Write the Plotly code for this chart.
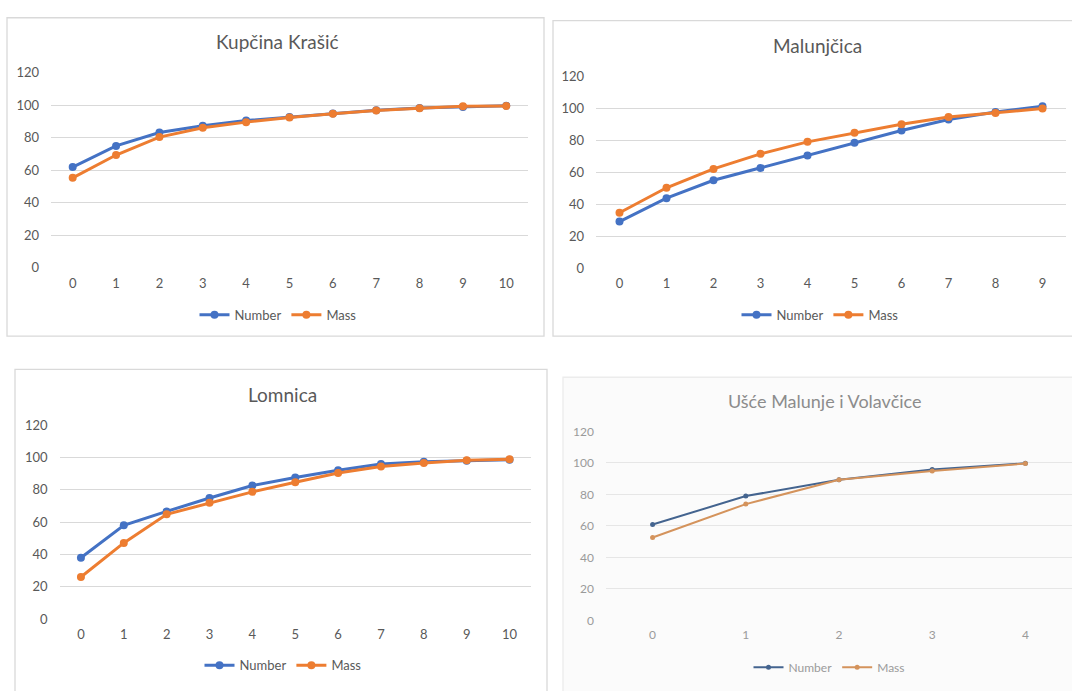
import plotly.graph_objects as go

W, H = 1072, 691

# ---------------- data ----------------
kup_title = "Kupčina Krašić"
kup_x = list(range(11))
kup_number = [61.9, 74.9, 83.1, 87.3, 90.5, 92.6, 94.8, 96.8, 98.2, 98.8, 99.6]
kup_mass = [55.3, 69.3, 80.3, 86.1, 89.5, 92.4, 94.6, 96.6, 98.0, 99.2, 99.4]

mal_title = "Malunjčica"
mal_x = list(range(10))
mal_number = [29.1, 43.7, 54.9, 62.6, 70.4, 78.3, 86.0, 92.9, 97.6, 101.1]
mal_mass = [34.6, 50.2, 62.0, 71.4, 78.9, 84.6, 89.9, 94.4, 97.0, 99.7]

lom_title = "Lomnica"
lom_x = list(range(11))
lom_number = [37.9, 58.0, 66.6, 74.9, 82.6, 87.6, 92.0, 96.0, 97.4, 97.9, 98.5]
lom_mass = [26.0, 47.1, 64.8, 71.9, 78.7, 84.6, 90.4, 94.4, 96.6, 98.3, 98.9]

usc_title = "Ušće Malunje i Volavčice"
usc_x = list(range(5))
usc_number = [60.9, 79.0, 89.3, 95.9, 99.8]
usc_mass = [52.7, 73.9, 89.3, 94.9, 99.6]

y_ticks = [0, 20, 40, 60, 80, 100, 120]
series_names = ["Number", "Mass"]

# ---------------- layout helpers ----------------
FONT = "Lato, 'Open Sans', sans-serif"


def fx(px):
    return px / W


def fy(py):
    return 1 - py / H


panels = [
    dict(title=kup_title, x=kup_x, ys=[kup_number, kup_mass],
         plot=(51, 528, 66, 266), box=(7, 10, 544, 336), tpos=(277, 34), lpos=(278, 314),
         colors=["#4472C4", "#ED7D31"], lw=3, ms=8, txt="#595959", ttxt="#595959",
         bg=None, border="#D9D9D9", tsize=13, ttsize=19),
    dict(title=mal_title, x=mal_x, ys=[mal_number, mal_mass],
         plot=(596, 1066, 69.7, 266.3), box=(553, 13, 1080, 336), tpos=(817, 38), lpos=(820, 314),
         colors=["#4472C4", "#ED7D31"], lw=3, ms=8, txt="#595959", ttxt="#595959",
         bg=None, border="#D9D9D9", tsize=13, ttsize=19),
    dict(title=lom_title, x=lom_x, ys=[lom_number, lom_mass],
         plot=(59.5, 531, 427, 625.5), box=(15, 370, 547, 700), tpos=(282, 396), lpos=(283, 673),
         colors=["#4472C4", "#ED7D31"], lw=3, ms=8, txt="#595959", ttxt="#595959",
         bg=None, border="#D9D9D9", tsize=13, ttsize=19),
    dict(title=usc_title, x=usc_x, ys=[usc_number, usc_mass],
         plot=(606, 1072, 433.5, 627), box=(563, 378, 1080, 700), tpos=(825, 402), lpos=(829, 675),
         colors=["#44648F", "#D4935C"], lw=2, ms=5, txt="#9A9A9A", ttxt="#8C8C8C",
         bg="#FBFBFB", border="#ECECEC", tsize=12, ttsize=18),
]

fig = go.Figure()
shapes = []
annotations = []
layout_extra = {}

for i, p in enumerate(panels):
    k = i + 1
    xa = "xaxis" if k == 1 else f"xaxis{k}"
    ya = "yaxis" if k == 1 else f"yaxis{k}"
    xr = "x" if k == 1 else f"x{k}"
    yr = "y" if k == 1 else f"y{k}"
    lg = "legend" if k == 1 else f"legend{k}"

    x0, x1, yt, yb = p["plot"]
    bx0, by0, bx1, by1 = p["box"]

    shapes.append(dict(type="rect", xref="paper", yref="paper",
                       x0=fx(bx0), x1=fx(bx1), y0=fy(by1), y1=fy(by0),
                       line=dict(color=p["border"], width=1.3),
                       fillcolor=p["bg"] if p["bg"] else "rgba(0,0,0,0)",
                       layer="below"))

    for name, yv, col in zip(series_names, p["ys"], p["colors"]):
        fig.add_trace(go.Scatter(
            x=p["x"], y=yv, name=name, mode="lines+markers",
            line=dict(color=col, width=p["lw"]),
            marker=dict(color=col, size=p["ms"], symbol="circle"),
            xaxis=xr, yaxis=yr, legend=lg, showlegend=True,
            hoverinfo="x+y+name"))

    layout_extra[xa] = dict(
        domain=[fx(x0), fx(x1)], anchor=yr,
        range=[-0.5, len(p["x"]) - 0.5],
        tickmode="array", tickvals=p["x"], ticktext=[str(v) for v in p["x"]],
        showgrid=False, zeroline=False, showline=False, ticks="",
        tickfont=dict(family=FONT, size=p["tsize"], color=p["txt"]),
        ticklabelstandoff=6, fixedrange=True)
    layout_extra[ya] = dict(
        domain=[fy(yb), fy(yt)], anchor=xr,
        range=[0, 120], tickmode="array", tickvals=y_ticks,
        ticktext=[str(v) for v in y_ticks],
        showgrid=True, gridcolor="#D9D9D9" if k < 4 else "#E6E6E6", gridwidth=1,
        zeroline=False, showline=False, ticks="",
        tickfont=dict(family=FONT, size=p["tsize"], color=p["txt"]),
        ticklabelstandoff=11, fixedrange=True)

    layout_extra[lg] = dict(
        orientation="h", x=fx(p["lpos"][0]), y=fy(p["lpos"][1]),
        xanchor="center", yanchor="middle", bgcolor="rgba(0,0,0,0)",
        font=dict(family=FONT, size=p["tsize"], color=p["txt"]),
        itemwidth=30, tracegroupgap=0)

    annotations.append(dict(
        text=p["title"], xref="paper", yref="paper",
        x=fx(p["tpos"][0]), y=fy(p["tpos"][1]),
        xanchor="center", yanchor="middle", showarrow=False,
        font=dict(family=FONT, size=p["ttsize"], color=p["ttxt"])))

fig.update_layout(
    width=W, height=H, autosize=False,
    margin=dict(l=0, r=0, t=0, b=0),
    paper_bgcolor="white", plot_bgcolor="rgba(0,0,0,0)",
    shapes=shapes, annotations=annotations,
    hovermode="closest",
    **layout_extra)

fig.write_html("out.html",
               config={"displayModeBar": False},
               post_script="document.body.style.margin='0';document.body.style.overflow='hidden';")
